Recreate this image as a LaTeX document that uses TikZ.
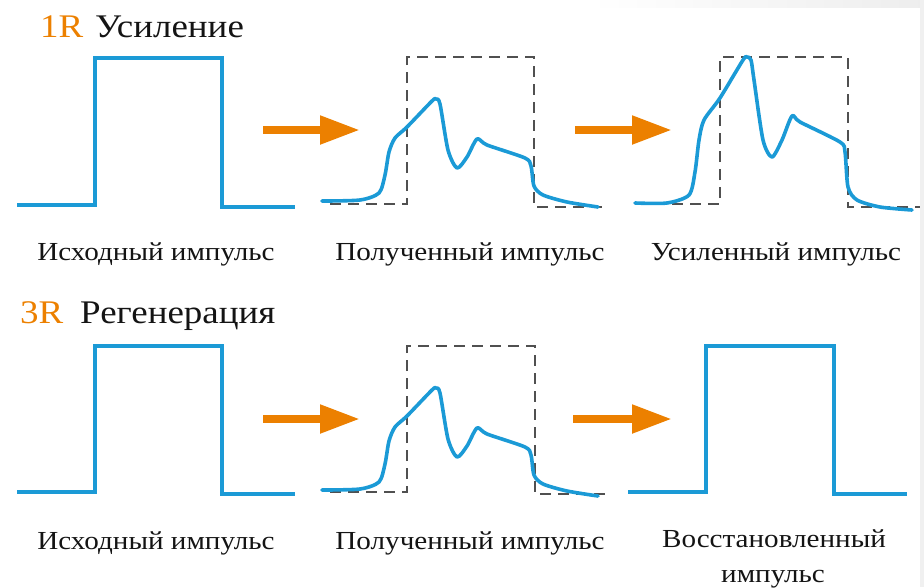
\documentclass[tikz,border=0pt]{standalone}
\usepackage{fontspec}
\setmainfont{Liberation Serif}[FakeStretch=1.12]
\usetikzlibrary{arrows.meta}
\definecolor{pblue}{HTML}{1B9AD6}
\definecolor{porange}{HTML}{EC8000}
\definecolor{dgray}{HTML}{505050}
\tikzset{
  pulse/.style={draw=pblue, line width=3.5pt, line join=miter},
  wave/.style={draw=pblue, line width=3.6pt, line join=round, line cap=round},
  ideal/.style={draw=dgray, line width=1.5pt, dash pattern=on 11pt off 7pt},
  bigarrow/.style={draw=porange, line width=8pt, -{Triangle[length=40pt,width=27pt]}},
  title/.style={anchor=base west, inner sep=0pt, font=\fontsize{33}{36}\selectfont},
  lab/.style={anchor=base, inner sep=0pt, font=\fontsize{26}{30}\selectfont, text=black!92},
}
\begin{document}
\begin{tikzpicture}[x=1pt,y=-1pt]
\useasboundingbox (0,0) rectangle (924,587);
\shade[left color=white, right color=black!7] (590,0) rectangle (924,7);
\fill[black!6] (920,0) rectangle (924,587);

% ---------- titles
\node[title, text=porange] (t1a) at (40,37) {1R};
\node[title, text=black!92] (t1b) at (95,37) {Усиление};
\node[title, text=porange] (t2a) at (20,323) {3R};
\node[title, text=black!92] (t2b) at (80,323) {Регенерация};

% ---------- row 1
\draw[pulse] (17,205) -- (95,205) -- (95,58) -- (222,58) -- (222,207) -- (295,207);
\coordinate (a1s) at (263,130); \coordinate (a1e) at (360,130);
\draw[bigarrow] (a1s) -- (a1e);
\draw[ideal] (330,204) -- (407,204) -- (407,57) -- (534,57) -- (534,207) -- (607,207);
\draw[wave] plot[smooth, tension=0.45] coordinates {
 (322,201) (360,200) (379,193) (385,175) (389,152) (395,138) (407,127) (432,101) (436,99) (440,104) (448,150) (457,168) (467,157) (477,139) (487,145) (525,158) (531,166) (534,186) (543,195) (567,202) (598,207)};
\coordinate (a2s) at (575,130); \coordinate (a2e) at (672,130);
\draw[bigarrow] (a2s) -- (a2e);
\draw[ideal] (672,204) -- (720,204) -- (720,57) -- (848,57) -- (848,207) -- (920,207);
\draw[wave] plot[smooth, tension=0.45] coordinates {
 (635,203) (667,203) (689,195) (695,172) (699,140) (704,120) (720,98) (743,60) (747,57) (751,60) (754,80) (763,140) (772,157) (782,140) (792,116) (800,122) (840,142) (845,152) (848,187) (857,200) (880,207) (912,210)};

\node[lab] (l11) at (156,260) {Исходный импульс};
\node[lab] (l12) at (470,260) {Полученный импульс};
\node[lab] (l13) at (776,260) {Усиленный импульс};

% ---------- row 2
\draw[pulse] (17,492) -- (95,492) -- (95,346) -- (222,346) -- (222,494) -- (295,494);
\coordinate (b1s) at (263,419); \coordinate (b1e) at (360,419);
\draw[bigarrow] (b1s) -- (b1e);
\draw[ideal] (330,492) -- (407,492) -- (407,346) -- (535,346) -- (535,494) -- (607,494);
\begin{scope}[yshift=-289pt]
\draw[wave] plot[smooth, tension=0.45] coordinates {
 (322,201) (360,200) (379,193) (385,175) (389,152) (395,138) (407,127) (432,101) (436,99) (440,104) (448,150) (457,168) (467,157) (477,139) (487,145) (525,158) (531,166) (534,186) (543,195) (567,202) (598,207)};
\end{scope}
\coordinate (b2s) at (573,419); \coordinate (b2e) at (672,419);
\draw[bigarrow] (b2s) -- (b2e);
\draw[pulse] (628,492) -- (706,492) -- (706,346) -- (834,346) -- (834,494) -- (907,494);

\node[lab] (l21) at (156,549) {Исходный импульс};
\node[lab] (l22) at (470,549) {Полученный импульс};
\node[lab] (l23) at (774,547) {Восстановленный};
\node[lab] (l24) at (773,582) {импульс};
\end{tikzpicture}
\end{document}
